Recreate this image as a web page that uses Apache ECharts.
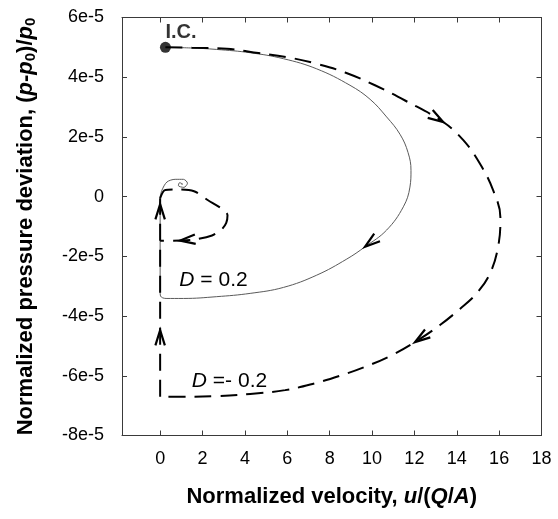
<!DOCTYPE html>
<html>
<head>
<meta charset="utf-8">
<script src="https://cdn.jsdelivr.net/npm/echarts@6/dist/echarts.min.js"></script>
<style>
html,body{margin:0;padding:0;background:#fff;}
#chart{width:558px;height:519px;}
</style>
</head>
<body>
<div id="chart"></div>
<script>
// ---- data (x: normalized velocity, y: normalized pressure deviation) ----
const xTicks = [0, 2, 4, 6, 8, 10, 12, 14, 16, 18];
const yTicks = [-8e-5, -6e-5, -4e-5, -2e-5, 0, 2e-5, 4e-5, 6e-5];
const yTickLabels = ['-8e-5', '-6e-5', '-4e-5', '-2e-5', '0', '2e-5', '4e-5', '6e-5'];

const initialCondition = [[0.25, 5.0e-5]];

// D = 0.2 (solid)
const solidMain = [
  [0.25, 5.0e-5], [1.42, 4.98e-5], [2.67, 4.93e-5], [4.25, 4.82e-5], [5.82, 4.62e-5],
  [7.39, 4.28e-5], [8.96, 3.73e-5], [9.91, 3.26e-5], [10.69, 2.67e-5], [11.32, 2.09e-5],
  [11.70, 1.48e-5], [11.84, 0.88e-5], [11.79, 0.32e-5], [11.48, -0.34e-5], [10.69, -1.12e-5],
  [9.67, -1.68e-5], [8.81, -2.09e-5], [7.39, -2.63e-5], [5.82, -3.04e-5], [4.25, -3.24e-5],
  [2.67, -3.35e-5], [1.10, -3.41e-5], [0.28, -3.41e-5], [0.02, -3.33e-5], [0, -3.2e-5]
];
const solidVertical = [[0, -3.2e-5], [0, -0.01e-5]];
const solidSpiral = [
  [0, -0.01e-5], [0.08, 0.21e-5], [0.32, 0.49e-5], [0.71, 0.58e-5], [1.10, 0.58e-5],
  [1.29, 0.45e-5], [1.12, 0.31e-5], [0.86, 0.37e-5], [0.92, 0.47e-5], [1.06, 0.42e-5], [1.0, 0.42e-5]
];

// D = -0.2 (dashed)
const dashedMain = [
  [0.25, 5.0e-5], [1.5, 4.99e-5], [3.15, 4.95e-5], [4.64, 4.81e-5], [6.0, 4.67e-5],
  [7.39, 4.45e-5], [8.73, 4.16e-5], [10.14, 3.73e-5], [11.56, 3.22e-5], [13.36, 2.50e-5],
  [14.31, 1.89e-5], [15.09, 1.11e-5], [15.72, 0.21e-5], [16.06, -0.70e-5], [15.96, -1.65e-5],
  [15.57, -2.57e-5], [14.94, -3.24e-5], [14.15, -3.76e-5], [13.21, -4.30e-5], [12.03, -4.87e-5],
  [10.85, -5.34e-5], [9.67, -5.70e-5], [8.49, -6.00e-5], [7.31, -6.25e-5], [5.90, -6.48e-5],
  [4.25, -6.61e-5], [2.67, -6.68e-5], [1.10, -6.70e-5], [0, -6.70e-5]
];
const dashedVertical = [[0, -6.70e-5], [0, -0.05e-5]];
const dashedLoop = [
  [0, -0.05e-5], [0.24, 0.22e-5], [0.8, 0.24e-5], [1.6, 0.18e-5], [2.26, -0.12e-5],
  [2.9, -0.40e-5], [3.18, -0.62e-5], [3.12, -0.88e-5], [2.9, -1.10e-5], [2.45, -1.30e-5],
  [1.6, -1.44e-5], [0.94, -1.47e-5], [0, -1.48e-5]
];

// arrow heads: [tipX, tipY, tailX, tailY]
const arrows = [
  [9.67, -1.68e-5, 10.69, -1.12e-5],
  [13.36, 2.50e-5, 12.5, 2.88e-5],
  [12.03, -4.87e-5, 13.21, -4.30e-5],
  [0, -4.47e-5, 0, -5.5e-5],
  [0, -0.25e-5, 0, -1.0e-5],
  [0.94, -1.47e-5, 2.0, -1.40e-5]
];

const labelD1 = '{i|D} = 0.2';
const labelD2 = '{i|D} =- 0.2';
const labelIC = 'I.C.';

// ---- chart ----
const FONT = '"Liberation Sans", Arial, sans-serif';
const X_MIN = -1.8, X_MAX = 18, Y_MIN = -8e-5, Y_MAX = 6e-5;
const chart = echarts.init(document.getElementById('chart'), null, {renderer: 'canvas'});

function yLabel(v) {
  let best = 0;
  for (let i = 0; i < yTicks.length; i++) {
    if (Math.abs(yTicks[i] - v) < Math.abs(yTicks[best] - v)) best = i;
  }
  return yTickLabels[best];
}

const axisLineStyle = {color: '#3a3a3a', width: 1};
const lineSeries = (data, dashed, smooth) => ({
  type: 'line', data: data, xAxisIndex: 0, yAxisIndex: 0,
  showSymbol: false, symbol: 'none', silent: true,
  smooth: smooth,
  lineStyle: dashed ? {color: '#000', width: 2, type: [17, 9]} : {color: '#5a5a5a', width: 1},
  z: dashed ? 3 : 2
});

const option = {
  animation: false,
  backgroundColor: '#fff',
  grid: {left: 122, right: 16.5, top: 17.5, bottom: 83.5, containLabel: false},
  xAxis: [{
    type: 'value', min: X_MIN, max: X_MAX, position: 'bottom',
    axisLine: {show: true, onZero: false, lineStyle: axisLineStyle},
    axisTick: {show: true, inside: true, length: 5, customValues: xTicks, lineStyle: axisLineStyle},
    axisLabel: {show: true, customValues: xTicks, margin: 15, color: '#000', fontSize: 18, fontFamily: FONT},
    splitLine: {show: false},
    name: '{b|Normalized velocity, }{bi|u}{b|/(}{bi|Q}{b|/}{bi|A}{b|)}',
    nameLocation: 'middle', nameGap: 50,
    nameTextStyle: {
      rich: {
        b: {fontSize: 22, fontWeight: 'bold', fontFamily: FONT, color: '#000'},
        bi: {fontSize: 22, fontWeight: 'bold', fontStyle: 'italic', fontFamily: FONT, color: '#000'}
      }
    }
  }, {
    type: 'value', min: X_MIN, max: X_MAX, position: 'top',
    axisLine: {show: true, onZero: false, lineStyle: axisLineStyle},
    axisTick: {show: true, inside: true, length: 5, customValues: xTicks, lineStyle: axisLineStyle},
    axisLabel: {show: false},
    splitLine: {show: false}
  }],
  yAxis: [{
    type: 'value', min: Y_MIN, max: Y_MAX, interval: 2e-5, position: 'left',
    axisLine: {show: true, onZero: false, lineStyle: axisLineStyle},
    axisTick: {show: true, inside: true, length: 5, lineStyle: axisLineStyle},
    axisLabel: {show: true, margin: 18, color: '#000', fontSize: 18, fontFamily: FONT, formatter: yLabel},
    splitLine: {show: false},
    name: '{b|Normalized pressure deviation, (}{bi|p}{b|-}{bi|p}{sub|0}{b|)/}{bi|p}{sub|0}',
    nameLocation: 'middle', nameGap: 84, nameRotate: 90,
    nameTextStyle: {
      rich: {
        b: {fontSize: 22, fontWeight: 'bold', fontFamily: FONT, color: '#000', lineHeight: 25},
        bi: {fontSize: 22, fontWeight: 'bold', fontStyle: 'italic', fontFamily: FONT, color: '#000', lineHeight: 25},
        sub: {fontSize: 15, fontWeight: 'bold', fontFamily: FONT, color: '#000', verticalAlign: 'bottom', lineHeight: 25, padding: [7, 0, 0, 0]}
      }
    }
  }, {
    type: 'value', min: Y_MIN, max: Y_MAX, interval: 2e-5, position: 'right',
    axisLine: {show: true, onZero: false, lineStyle: axisLineStyle},
    axisTick: {show: true, inside: true, length: 5, lineStyle: axisLineStyle},
    axisLabel: {show: false},
    splitLine: {show: false}
  }],
  series: [
    lineSeries(solidMain, false, 0.4),
    lineSeries(solidVertical, false, false),
    lineSeries(solidSpiral, false, 0.3),
    lineSeries(dashedMain, true, 0.4),
    lineSeries(dashedVertical, true, false),
    lineSeries(dashedLoop, true, 0.3),
    {
      type: 'custom', xAxisIndex: 0, yAxisIndex: 0, silent: true, z: 5,
      data: arrows,
      encode: {x: [0, 2], y: [1, 3]},
      renderItem: function (params, api) {
        const tip = api.coord([api.value(0), api.value(1)]);
        const tail = api.coord([api.value(2), api.value(3)]);
        const ang = Math.atan2(tip[1] - tail[1], tip[0] - tail[0]);
        const L = 16, a = 0.3;
        const p1 = [tip[0] - L * Math.cos(ang - a), tip[1] - L * Math.sin(ang - a)];
        const p2 = [tip[0] - L * Math.cos(ang + a), tip[1] - L * Math.sin(ang + a)];
        return {
          type: 'polyline',
          shape: {points: [p1, tip, p2]},
          style: {stroke: '#000', lineWidth: 2.2, fill: null, lineJoin: 'miter'}
        };
      }
    },
    {
      type: 'scatter', xAxisIndex: 0, yAxisIndex: 0, silent: true, z: 6,
      data: initialCondition, symbol: 'circle', symbolSize: 11,
      itemStyle: {color: '#000'},
      label: {
        show: true, formatter: labelIC, position: [5.5, -19],
        fontSize: 20, fontWeight: 'bold', fontFamily: FONT, color: '#000'
      }
    }
  ],
  graphic: [
    {
      type: 'text', x: 213.5, y: 280, silent: true,
      style: {
        text: labelD1, align: 'center', verticalAlign: 'middle',
        font: '21px ' + FONT, fill: '#000',
        rich: {i: {fontStyle: 'italic', fontSize: 21, fontFamily: FONT}}
      }
    },
    {
      type: 'text', x: 229.5, y: 381, silent: true,
      style: {
        text: labelD2, align: 'center', verticalAlign: 'middle',
        font: '21px ' + FONT, fill: '#000',
        rich: {i: {fontStyle: 'italic', fontSize: 21, fontFamily: FONT}}
      }
    }
  ]
};
chart.setOption(option);
</script>
</body>
</html>
